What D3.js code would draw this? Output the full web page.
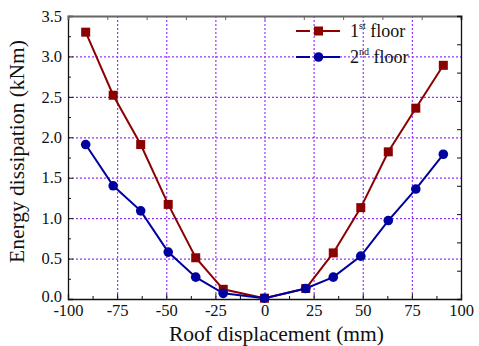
<!DOCTYPE html>
<html>
<head>
<meta charset="utf-8">
<script src="https://cdn.jsdelivr.net/npm/d3@7"></script>
<style>
  body { margin: 0; background: #fff; }
  .grid line { stroke: #9a33ff; stroke-width: 1.2; stroke-dasharray: 2,2; }
  .grid .domain { display: none; }
  .axis .domain { stroke: #111; stroke-width: 1.3; }
  .axis line { stroke: #111; }
</style>
</head>
<body>
<div id="chart"></div>
<script>
// Energy dissipation vs roof displacement, two floors
var displacement = [-91, -77, -63, -49, -35, -21, 0, 21, 35, 49, 63, 77, 91];
var floor1 = [3.30, 2.52, 1.91, 1.17, 0.51, 0.12, 0.01, 0.13, 0.57, 1.13, 1.82, 2.36, 2.89];
var floor2 = [1.91, 1.40, 1.09, 0.58, 0.27, 0.07, 0.01, 0.13, 0.27, 0.53, 0.97, 1.36, 1.79];
var xTicks = [-100, -75, -50, -25, 0, 25, 50, 75, 100];
var yTicks = [0, 0.5, 1.0, 1.5, 2.0, 2.5, 3.0, 3.5];
var seriesNames = ["1", "2"];
var seriesSup = ["st", "nd"];

var serif = "Liberation Serif";
var width = 479, height = 346;
var margin = {top: 16, right: 18, bottom: 47, left: 68};
var innerW = width - margin.left - margin.right;
var innerH = height - margin.top - margin.bottom;

var svg = d3.select("#chart").append("svg")
    .attr("width", width)
    .attr("height", height)
    .style("font-family", serif);

var g = svg.append("g")
    .attr("transform", "translate(" + margin.left + "," + margin.top + ")");

var x = d3.scaleLinear().domain([-100, 100]).range([0, innerW]);
var y = d3.scaleLinear().domain([0, 3.5]).range([innerH, 0]);

// gridlines
g.append("g").attr("class", "grid")
    .call(d3.axisBottom(x).tickValues(xTicks.slice(1, -1)).tickSize(innerH).tickFormat(""));
g.append("g").attr("class", "grid")
    .call(d3.axisLeft(y).tickValues(yTicks.slice(1, -1)).tickSize(-innerW).tickFormat(""));

// minor ticks (inward)
var xMinor = d3.range(-87.5, 100, 25);
var yMinor = d3.range(0.25, 3.5, 0.5);

function serifLabels(sel) {
    sel.attr("font-family", null).attr("font-size", null)
        .style("font-family", serif);
    sel.selectAll("text")
        .attr("font-family", serif)
        .attr("font-size", 16.5)
        .attr("fill", "#111")
        .style("font-family", serif);
}

var xAxis = g.append("g").attr("class", "axis")
    .attr("transform", "translate(0," + innerH + ")")
    .call(d3.axisBottom(x).tickValues(xTicks).tickSize(-5).tickPadding(5)
        .tickFormat(function (d) { return String(d); }))
    .call(serifLabels);
g.append("g").attr("class", "axis")
    .attr("transform", "translate(0," + innerH + ")")
    .call(d3.axisBottom(x).tickValues(xMinor).tickSize(-3).tickFormat(""))
    .select(".domain").remove();

var yAxis = g.append("g").attr("class", "axis")
    .call(d3.axisLeft(y).tickValues(yTicks).tickSize(-5).tickPadding(6).tickFormat(d3.format(".1f")))
    .call(serifLabels);
// lift the bottom label a touch so it clears the -100 label
yAxis.selectAll(".tick text").filter(function (d) { return d === 0; }).attr("dy", "0.15em");
g.append("g").attr("class", "axis")
    .call(d3.axisLeft(y).tickValues(yMinor).tickSize(-3).tickFormat(""))
    .select(".domain").remove();

// top and right frame axes
var topAxis = g.append("g").attr("class", "axis")
    .call(d3.axisTop(x).tickValues(d3.range(-100, 101, 20)).tickSize(-4).tickFormat(""));
topAxis.select(".domain").style("stroke", "#666").style("stroke-width", 2);
topAxis.selectAll("line").style("stroke", "#666");
g.append("g").attr("class", "axis")
    .attr("transform", "translate(" + innerW + ",0)")
    .call(d3.axisRight(y).tickValues(d3.range(0, 3.51, 0.35)).tickSize(-4).tickFormat(""));

// axis titles
g.append("text")
    .attr("x", innerW / 2 + 12)
    .attr("y", innerH + 42)
    .attr("text-anchor", "middle")
    .attr("fill", "#111")
    .style("font-size", "21.5px")
    .style("font-family", serif)
    .text("Roof displacement (mm)");
g.append("text")
    .attr("transform", "translate(" + (-44) + "," + (innerH / 2 - 6) + ") rotate(-90)")
    .attr("text-anchor", "middle")
    .attr("fill", "#111")
    .style("font-size", "21.5px")
    .style("font-family", serif)
    .text("Energy dissipation (kNm)");

// series
var colors = ["#8b0000", "#00009e"];
var series = [floor1, floor2];
var line = d3.line()
    .x(function (d, i) { return x(displacement[i]); })
    .y(function (d) { return y(d); });

series.forEach(function (vals, s) {
    g.append("path")
        .attr("d", line(vals))
        .attr("fill", "none")
        .attr("stroke", colors[s])
        .attr("stroke-width", 2);
    var pts = g.selectAll(".pts" + s).data(vals).enter();
    if (s === 0) {
        pts.append("rect")
            .attr("x", function (d, i) { return x(displacement[i]) - 4.5; })
            .attr("y", function (d) { return y(d) - 4.5; })
            .attr("width", 9)
            .attr("height", 9)
            .attr("fill", colors[s]);
    } else {
        pts.append("circle")
            .attr("cx", function (d, i) { return x(displacement[i]); })
            .attr("cy", function (d) { return y(d); })
            .attr("r", 4.8)
            .attr("fill", colors[s]);
    }
});

// legend
var legend = g.append("g").attr("transform", "translate(" + 228 + "," + 15 + ")");
seriesNames.forEach(function (name, s) {
    var ly = s * 26;
    legend.append("line")
        .attr("x1", 0).attr("x2", 44)
        .attr("y1", ly).attr("y2", ly)
        .attr("stroke", colors[s])
        .attr("stroke-width", 2)
        .attr("stroke-dasharray", "14,8,22");
    if (s === 0) {
        legend.append("rect")
            .attr("x", 18).attr("y", ly - 4.5)
            .attr("width", 9).attr("height", 9)
            .attr("fill", colors[s]);
    } else {
        legend.append("circle")
            .attr("cx", 22.5).attr("cy", ly).attr("r", 4.8)
            .attr("fill", colors[s]);
    }
    var t = legend.append("text")
        .attr("x", 54)
        .attr("y", ly + 6)
        .attr("fill", "#111")
        .style("font-size", "18px")
        .style("font-family", serif);
    t.append("tspan").text(name);
    t.append("tspan").attr("dy", -8).style("font-size", "10px").text(seriesSup[s]);
    t.append("tspan").attr("dy", 8).text(" floor");
});
</script>
</body>
</html>
